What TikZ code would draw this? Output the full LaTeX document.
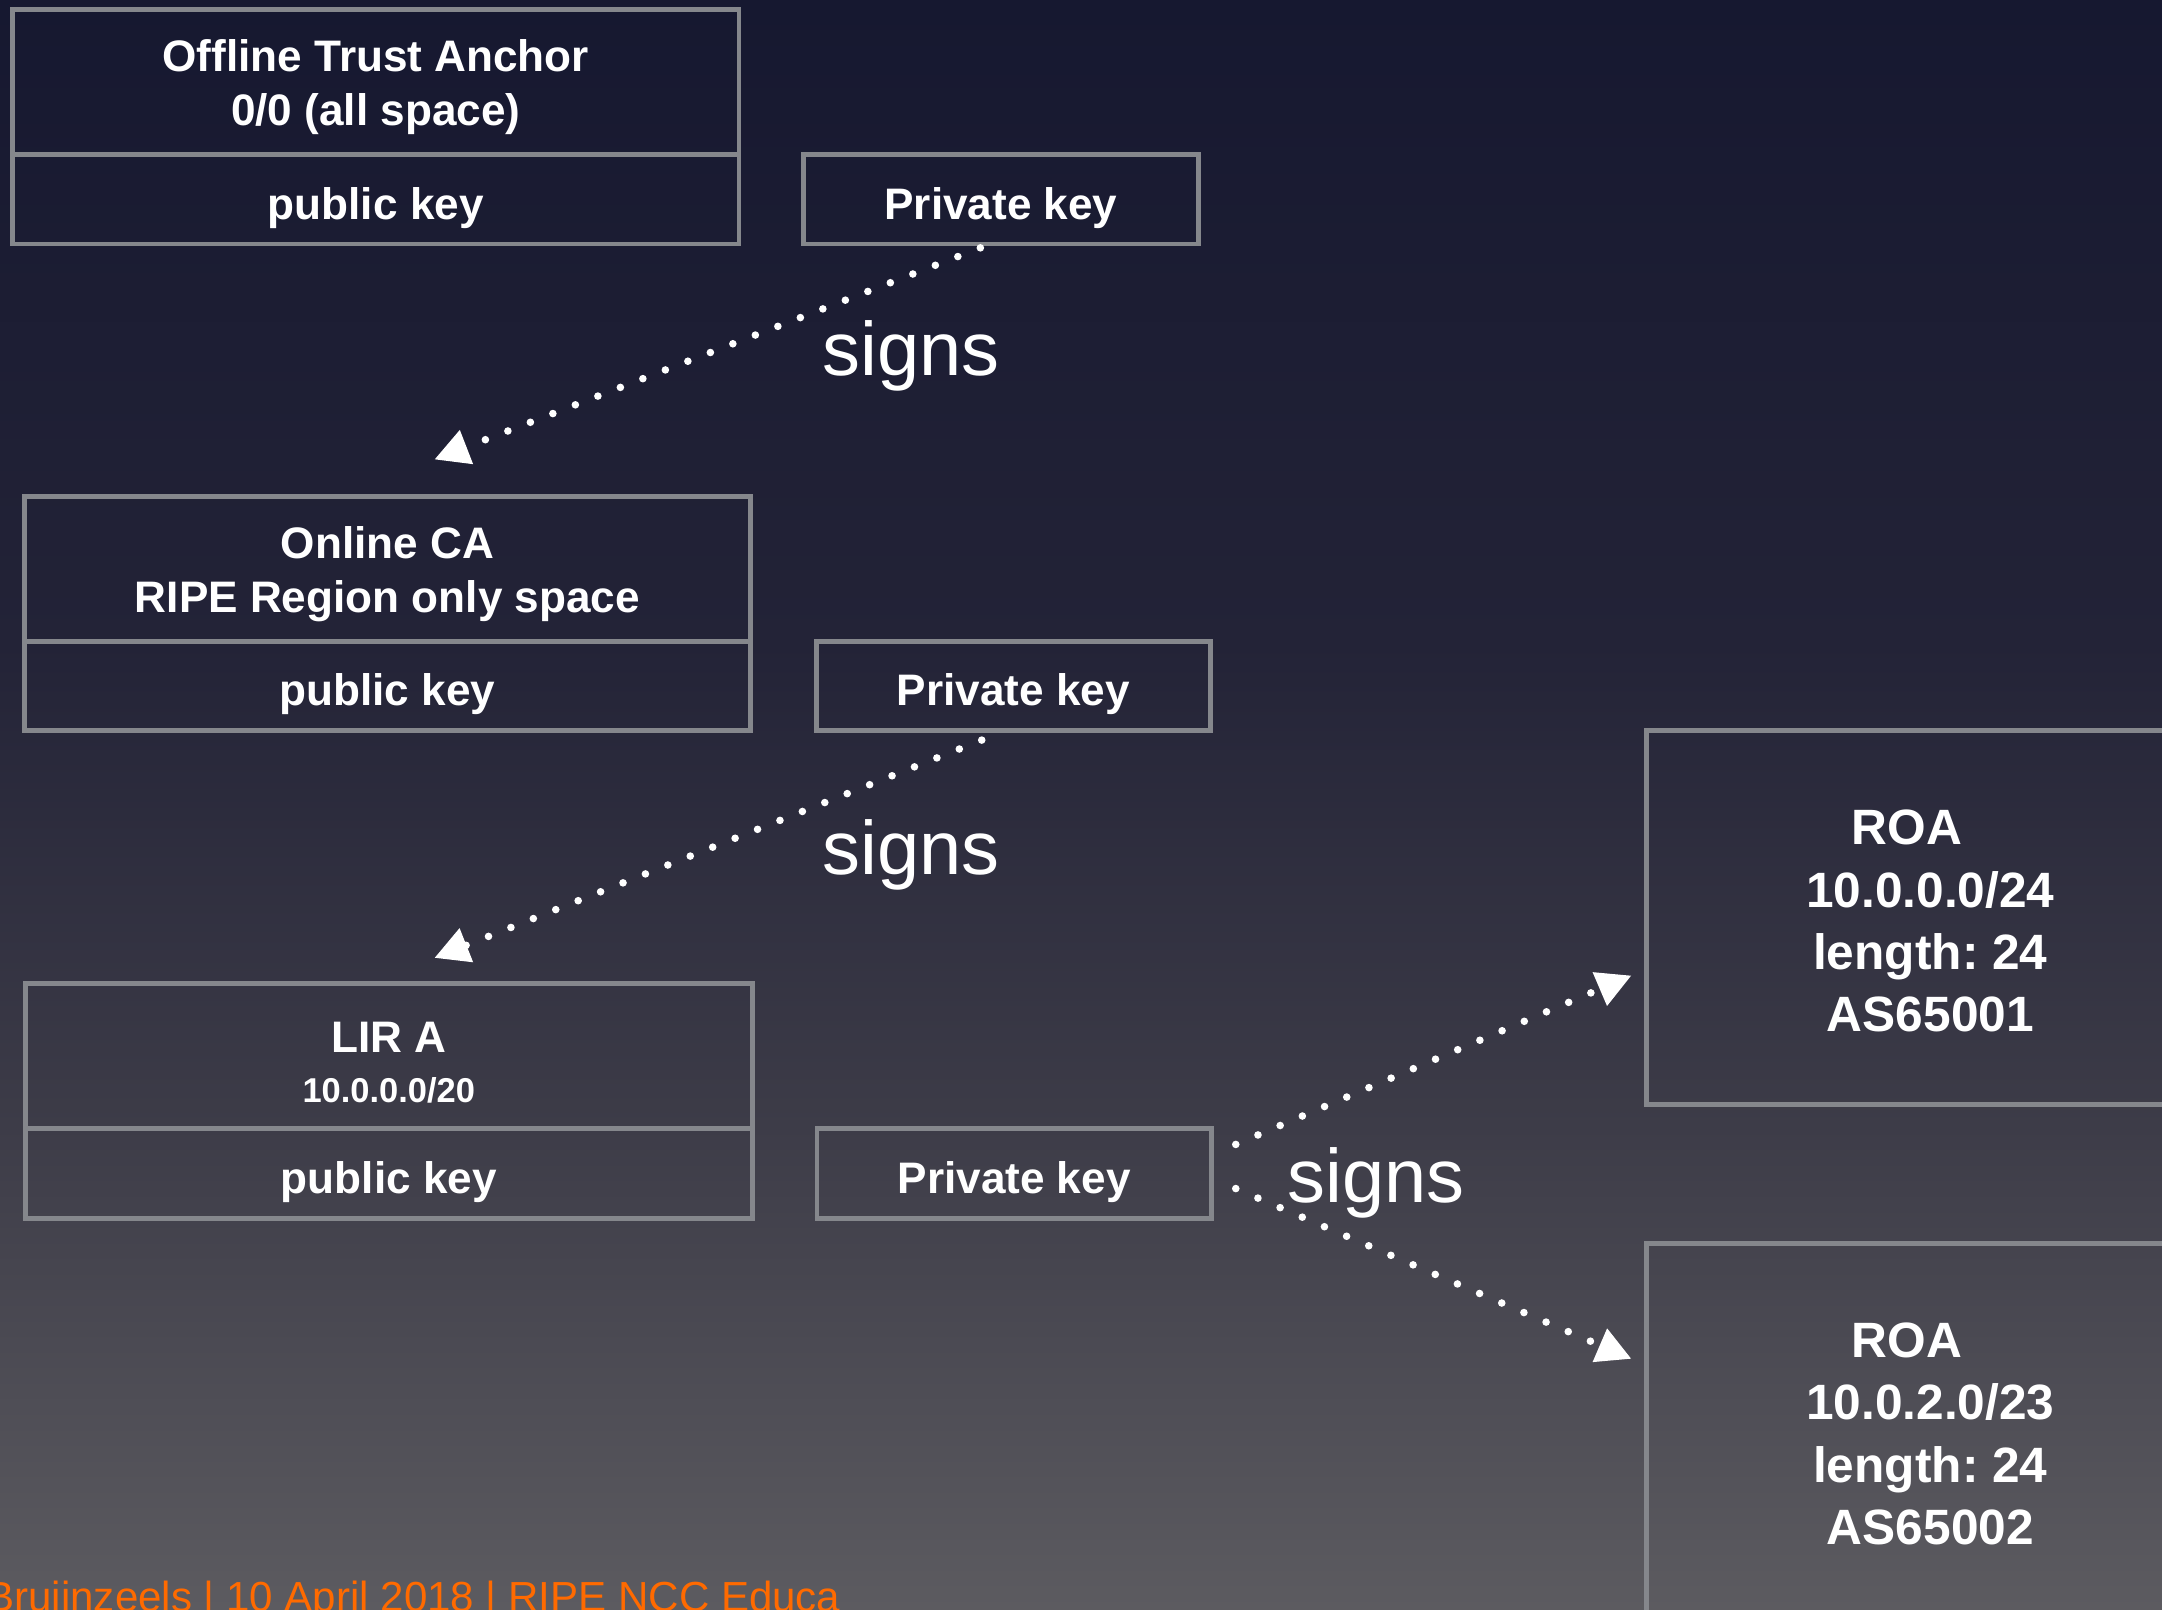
\documentclass[tikz,border=0pt]{standalone}
\usepackage{fontspec}
\setmainfont{Liberation Sans}
\usepackage{tikz}
\usetikzlibrary{arrows.meta}
\frenchspacing

\definecolor{bgtop}{HTML}{161830}
\definecolor{bgmidA}{HTML}{232337}
\definecolor{bgmidB}{HTML}{3D3C48}
\definecolor{bgbot}{HTML}{5C5B60}
\definecolor{boxgray}{HTML}{85878C}
\definecolor{footorange}{HTML}{FF6A00}
\pgfdeclareverticalshading{slidebg}{100bp}{color(0bp)=(bgbot); color(25bp)=(bgbot); color(40bp)=(bgmidB); color(55bp)=(bgmidA); color(75bp)=(bgtop); color(100bp)=(bgtop)}
\newcommand{\toprule}[1]{\rule{0pt}{#1}}

\begin{document}
\begin{tikzpicture}[x=1pt,y=-1pt,
                cabox/.style={draw=boxgray,line width=3.5pt,text=white,inner sep=0pt,align=center,
                    minimum width=527pt,minimum height=105pt,font=\bfseries\fontsize{32}{39}\selectfont},
                keybox/.style={draw=boxgray,line width=3.5pt,text=white,inner sep=0pt,
                    text height=30pt,text depth=1pt,
                    minimum width=527pt,minimum height=65pt,font=\bfseries\fontsize{32}{39}\selectfont},
                privbox/.style={keybox,minimum width=286pt},
                roabox/.style={draw=boxgray,line width=3.5pt,text=white,inner sep=0pt,align=center,
                    minimum width=412pt,minimum height=271pt,font=\bfseries\fontsize{36}{45}\selectfont},
                signline/.style={white,line width=5.5pt,line cap=round,dash pattern=on 0pt off 17.5pt,
                    -{Triangle[length=25pt,width=25pt]}},
                signlabel/.style={text=white,anchor=base,inner sep=0pt,font=\fontsize{55}{66}\selectfont}
            ]
                \useasboundingbox (0,0) rectangle (1568,1167);
                \clip (0,0) rectangle (1568,1167);
                \shade[shading=slidebg] (0,0) rectangle (1568,1167);

                % trust anchor
                \node[cabox] (ta) at (272.5,59.5) {\toprule{31pt}Offline Trust Anchor\\0/0 (all space)};
                \node[keybox] (tapub) at (272.5,144.5) {public key};
                \node[privbox] (tapriv) at (726,144.5) {Private key};

                % online ca
                \node[cabox] (ca) at (281,412.5) {\toprule{31pt}Online CA\\RIPE Region only space};
                \node[keybox] (capub) at (281,497.5) {public key};
                \node[privbox] (capriv) at (735,497.5) {Private key};

                % lir
                \node[cabox] (lir) at (282,766) {\toprule{31pt}LIR A\\[-3pt]{\fontsize{25}{30}\selectfont 10.0.0.0/20}};
                \node[keybox] (lirpub) at (282,851) {public key};
                \node[privbox] (lirpriv) at (735.5,851) {Private key};

                % roas
                \node[roabox] (roa1) at (1400,665.5) {\toprule{30pt}ROA\hspace*{34pt}\\10.0.0.0/24\\length: 24\\AS65001};
                \node[roabox] (roa2) at (1400,1037.5) {\toprule{30pt}ROA\hspace*{34pt}\\10.0.2.0/23\\length: 24\\AS65002};

                \draw[signline] ([xshift=-15pt,yshift=-1pt]tapriv.south) -- ([xshift=34pt,yshift=25pt]ca.north);
                \draw[signline] ([xshift=-23pt,yshift=-5pt]capriv.south) -- ([xshift=33pt,yshift=17pt]lir.north);
                \draw[signline] ([xshift=16pt,yshift=21pt]lirpriv.east) -- ([xshift=-9pt,yshift=-42pt]roa1.west);
                \draw[signline] ([xshift=16pt,yshift=-11pt]lirpriv.east) -- ([xshift=-9pt,yshift=52pt]roa2.west);

                \node[signlabel] (sign1) at (661,272) {signs};
                \node[signlabel] (sign2) at (661,634) {signs};
                \node[signlabel] (sign3) at (998,872) {signs};

                \node[text=footorange,anchor=base west,inner sep=0pt,font=\fontsize{30.5}{36}\selectfont]
                    (foot) at (-10,1169) {Bruijnzeels | 10 April 2018 | RIPE NCC Educa};

            \end{tikzpicture}
\end{document}
